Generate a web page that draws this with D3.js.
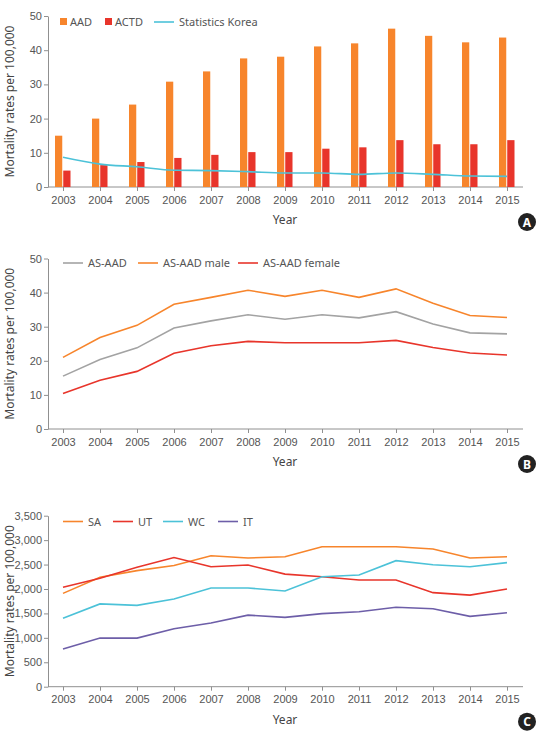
<!DOCTYPE html>
<html>
<head>
<meta charset="utf-8">
<script src="https://cdn.jsdelivr.net/npm/d3@7"></script>
<style>
  body { margin: 0; background: #fff; }
  svg { display: block; font-family: "Noto Sans", "Open Sans", sans-serif; }
  .tick text { fill: #555; font-size: 11px; font-family: "Liberation Sans", Arial, sans-serif; }
  .domain, .tick line { stroke: #909090; }
</style>
</head>
<body>
<svg id="chart" width="540" height="731"></svg>
<script>
const years = [2003, 2004, 2005, 2006, 2007, 2008, 2009, 2010, 2011, 2012, 2013, 2014, 2015];

// panel A
const aad = [15.0, 20.0, 24.1, 30.8, 33.8, 37.6, 38.1, 41.1, 42.0, 46.3, 44.2, 42.3, 43.7];
const actd = [4.8, 6.4, 7.3, 8.5, 9.4, 10.2, 10.2, 11.2, 11.6, 13.7, 12.5, 12.5, 13.7];
const statKorea = [8.7, 6.7, 5.9, 4.9, 4.8, 4.5, 4.1, 4.1, 3.7, 4.1, 3.7, 3.2, 3.1];

// panel B
const asAad = [15.5, 20.4, 23.8, 29.6, 31.7, 33.5, 32.2, 33.5, 32.6, 34.4, 30.8, 28.2, 27.9];
const asAadMale = [21.0, 26.8, 30.4, 36.6, 38.6, 40.7, 38.9, 40.7, 38.6, 41.1, 36.9, 33.3, 32.7];
const asAadFemale = [10.4, 14.3, 16.9, 22.2, 24.4, 25.7, 25.3, 25.3, 25.3, 26.0, 23.9, 22.3, 21.7];

// panel C
const sa = [1910, 2240, 2375, 2480, 2680, 2635, 2660, 2865, 2865, 2865, 2820, 2635, 2660];
const ut = [2035, 2220, 2445, 2645, 2455, 2490, 2305, 2250, 2185, 2185, 1925, 1875, 2000];
const wc = [1400, 1695, 1665, 1795, 2020, 2020, 1960, 2250, 2285, 2580, 2495, 2455, 2540];
const it = [770, 995, 995, 1185, 1305, 1465, 1420, 1495, 1535, 1625, 1595, 1440, 1515];

const yTicksA = [0, 10, 20, 30, 40, 50];
const yTicksB = [0, 10, 20, 30, 40, 50];
const yTicksC = [0, 500, 1000, 1500, 2000, 2500, 3000, 3500];

const C = {
  orange: "#f7852c",
  red: "#e8352b",
  cyan: "#4cc2d8",
  gray: "#a3a3a3",
  purple: "#6d5ea8"
};

const svg = d3.select("#chart");
const axisLeftX = 48, axisRightX = 523;

const x = d3.scalePoint().domain(years).range([63, 507]);

function panel(top, bottom, yMax, ticks, fmt, badge) {
  const g = svg.append("g");
  const y = d3.scaleLinear().domain([0, yMax]).range([bottom, top]);

  g.append("g")
    .attr("transform", `translate(${axisLeftX},0)`)
    .call(d3.axisLeft(y).tickValues(ticks).tickFormat(fmt).tickSize(4).tickSizeOuter(0).tickPadding(2));

  const xg = g.append("g")
    .attr("transform", `translate(0,${bottom})`)
    .call(d3.axisBottom(x).tickSize(4).tickSizeOuter(0).tickPadding(5));
  xg.select(".domain").attr("d", `M${axisLeftX},0H${axisRightX}`);

  g.append("text")
    .attr("transform", `translate(9,${(top + bottom) / 2}) rotate(-90)`)
    .attr("text-anchor", "middle")
    .attr("dominant-baseline", "central")
    .attr("fill", "#444")
    .style("font-size", "12px")
    .text("Mortality rates per 100,000");

  g.append("text")
    .attr("x", 285).attr("y", bottom + 37)
    .attr("text-anchor", "middle")
    .attr("fill", "#444")
    .style("font-size", "12px")
    .text("Year");

  g.append("circle").attr("cx", 527).attr("cy", bottom + 35).attr("r", 9).attr("fill", "#222");
  g.append("text")
    .attr("x", 527).attr("y", bottom + 39.5)
    .attr("text-anchor", "middle")
    .attr("fill", "#fff")
    .style("font-size", "12px").style("font-weight", "bold")
    .text(badge);

  return { g, y };
}

function drawLine(g, y, values, color, curve) {
  const line = d3.line()
    .x((d, i) => x(years[i]))
    .y(d => y(d))
    .curve(curve || d3.curveLinear);
  g.append("path")
    .datum(values)
    .attr("fill", "none")
    .attr("stroke", color)
    .attr("stroke-width", 1.6)
    .attr("d", line);
}

function legend(g, items, ly) {
  items.forEach(it => {
    if (it.type === "rect") {
      g.append("rect").attr("x", it.x).attr("y", ly - 4).attr("width", 7).attr("height", 7).attr("fill", it.color);
      g.append("text").attr("x", it.x + 10).attr("y", ly + 4).attr("fill", "#555").style("font-size", "11px").text(it.label);
    } else {
      g.append("line").attr("x1", it.x).attr("x2", it.x + 20).attr("y1", ly).attr("y2", ly)
        .attr("stroke", it.color).attr("stroke-width", 1.6);
      g.append("text").attr("x", it.x + 25).attr("y", ly + 4).attr("fill", "#555").style("font-size", "11px").text(it.label);
    }
  });
}

// ---- Panel A
const A = panel(16, 187, 50, yTicksA, d3.format("d"), "A");
const sub = d3.scaleBand().domain(["AAD", "ACTD"]).range([-8, 7.5]).paddingInner(0.12);
const barData = years.map((yr, i) => [{ yr, key: "AAD", v: aad[i] }, { yr, key: "ACTD", v: actd[i] }]).flat();
A.g.append("g").selectAll("rect")
  .data(barData)
  .join("rect")
  .attr("x", d => x(d.yr) + sub(d.key))
  .attr("width", sub.bandwidth())
  .attr("y", d => A.y(d.v))
  .attr("height", d => A.y(0) - A.y(d.v))
  .attr("fill", d => d.key === "AAD" ? C.orange : C.red);
drawLine(A.g, A.y, statKorea, C.cyan, d3.curveMonotoneX);
legend(A.g, [
  { type: "rect", x: 60, color: C.orange, label: "AAD" },
  { type: "rect", x: 105, color: C.red, label: "ACTD" },
  { type: "line", x: 154, color: C.cyan, label: "Statistics Korea" }
], 22);

// ---- Panel B
const B = panel(258.5, 429, 50, yTicksB, d3.format("d"), "B");
drawLine(B.g, B.y, asAad, C.gray);
drawLine(B.g, B.y, asAadMale, C.orange);
drawLine(B.g, B.y, asAadFemale, C.red);
legend(B.g, [
  { type: "line", x: 63, color: C.gray, label: "AS-AAD" },
  { type: "line", x: 138, color: C.orange, label: "AS-AAD male" },
  { type: "line", x: 238, color: C.red, label: "AS-AAD female" }
], 263);

// ---- Panel C
const Cp = panel(515.7, 686.7, 3500, yTicksC, d3.format(","), "C");
drawLine(Cp.g, Cp.y, sa, C.orange);
drawLine(Cp.g, Cp.y, ut, C.red);
drawLine(Cp.g, Cp.y, wc, C.cyan);
drawLine(Cp.g, Cp.y, it, C.purple);
legend(Cp.g, [
  { type: "line", x: 63, color: C.orange, label: "SA" },
  { type: "line", x: 113, color: C.red, label: "UT" },
  { type: "line", x: 163, color: C.cyan, label: "WC" },
  { type: "line", x: 218, color: C.purple, label: "IT" }
], 521.5);
</script>
</body>
</html>
